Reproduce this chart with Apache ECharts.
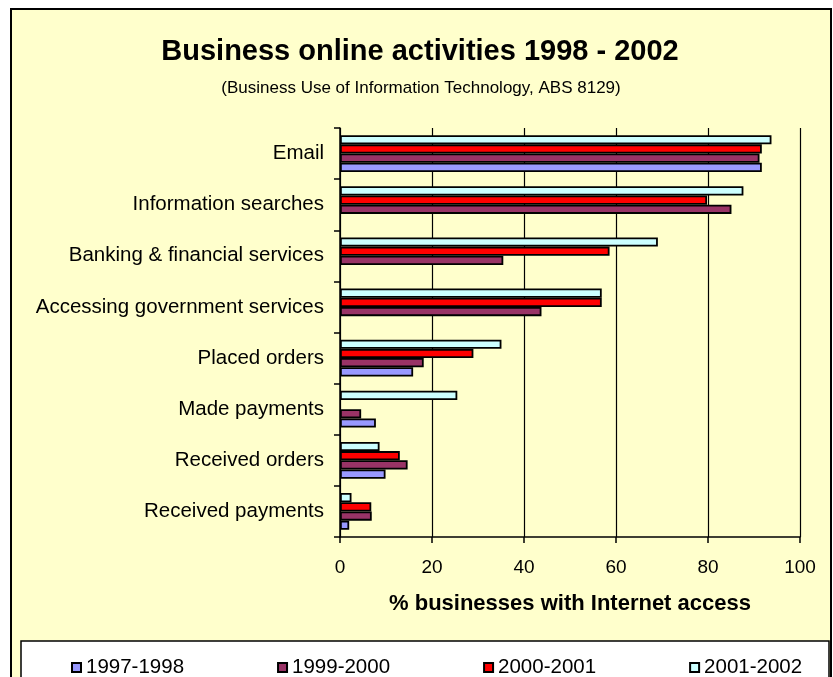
<!DOCTYPE html>
<html>
<head>
<meta charset="utf-8">
<script src="https://cdn.jsdelivr.net/npm/echarts@6/dist/echarts.min.js"></script>
<style>
  html, body { margin: 0; padding: 0; background: #ffffff; }
  #chart { width: 833px; height: 677px; }
</style>
</head>
<body>
<div id="chart"></div>
<script>
// Activities, listed top to bottom
var categories = [
  'Email',
  'Information searches',
  'Banking & financial services',
  'Accessing government services',
  'Placed orders',
  'Made payments',
  'Received orders',
  'Received payments'
];

// Share of businesses with Internet access (%), per survey period
var years1997_1998 = [91.7, null, null, null, 15.9, 7.8, 9.9, 2.0];
var years1999_2000 = [91.2, 85.1, 35.5, 43.8, 18.2, 4.6, 14.7, 6.9];
var years2000_2001 = [91.7, 79.8, 58.6, 56.9, 29.0, null, 13.0, 6.8];
var years2001_2002 = [93.8, 87.7, 69.1, 56.9, 35.1, 25.5, 8.6, 2.5];

var seriesNames = ['1997-1998', '1999-2000', '2000-2001', '2001-2002'];
var seriesColors = ['#9999FF', '#993366', '#FF0000', '#CCFFFF'];
var seriesData = [years1997_1998, years1999_2000, years2000_2001, years2001_2002];

var xTicks = [0, 20, 40, 60, 80, 100];

var FONT = 'Liberation Sans, Arial, sans-serif';

var chart = echarts.init(document.getElementById('chart'), null, { renderer: 'canvas' });

// Newest period sits on top of each group, oldest at the bottom
var series = seriesNames.map(function (name, i) {
  return {
    name: name,
    type: 'bar',
    data: seriesData[i],
    barGap: '0%',
    barCategoryGap: '28%',
    itemStyle: { color: seriesColors[i], borderColor: '#000000', borderWidth: 1.8 },
    emphasis: { disabled: true },
    animation: false
  };
}).reverse();

chart.setOption({
  backgroundColor: '#ffffff',
  animation: false,
  graphic: [
    {
      type: 'rect', z: -10, silent: true,
      shape: { x: 11, y: 9, width: 820, height: 700 },
      style: { fill: '#FFFFCC', stroke: '#000000', lineWidth: 2 }
    },
    {
      type: 'rect', z: -5, silent: true,
      shape: { x: 21, y: 641, width: 808, height: 60 },
      style: { fill: '#ffffff', stroke: '#000000', lineWidth: 1.5 }
    },
    {
      type: 'text', z: 5, silent: true,
      x: 420, y: 52,
      style: {
        text: 'Business online activities 1998 - 2002',
        fontFamily: FONT, fontSize: 29, fontWeight: 'bold',
        fill: '#000000', textAlign: 'center', textVerticalAlign: 'middle'
      }
    },
    {
      type: 'text', z: 5, silent: true,
      x: 421, y: 88,
      style: {
        text: '(Business Use of Information Technology, ABS 8129)',
        fontFamily: FONT, fontSize: 17,
        fill: '#000000', textAlign: 'center', textVerticalAlign: 'middle'
      }
    }
  ],
  legend: {
    data: seriesNames,
    icon: 'rect',
    left: 66,
    top: 652,
    itemWidth: 9,
    itemHeight: 9,
    itemGap: 93,
    selectedMode: false,
    textStyle: { fontFamily: FONT, fontSize: 20.5, color: '#000000' }
  },
  grid: { left: 340, right: 33, top: 128, bottom: 140, containLabel: false },
  xAxis: {
    type: 'value',
    min: xTicks[0],
    max: xTicks[xTicks.length - 1],
    interval: xTicks[1] - xTicks[0],
    name: '% businesses with Internet access',
    nameLocation: 'middle',
    nameGap: 56,
    nameTextStyle: { fontFamily: FONT, fontSize: 22, fontWeight: 'bold', color: '#000000' },
    axisLine: { show: true, lineStyle: { color: '#000000', width: 1.5 } },
    axisTick: { show: true, length: 6, lineStyle: { color: '#000000', width: 1.5 } },
    axisLabel: { margin: 21, fontFamily: FONT, fontSize: 19, color: '#000000' },
    splitLine: { show: true, lineStyle: { color: '#000000', width: 1.2 } }
  },
  yAxis: {
    type: 'category',
    data: categories,
    inverse: true,
    axisLine: { show: true, lineStyle: { color: '#000000', width: 1.5 } },
    axisTick: { show: true, length: 6, lineStyle: { color: '#000000', width: 1.5 } },
    axisLabel: { margin: 16, fontFamily: FONT, fontSize: 20.5, color: '#000000' },
    splitLine: { show: false }
  },
  series: series
});
</script>
</body>
</html>
